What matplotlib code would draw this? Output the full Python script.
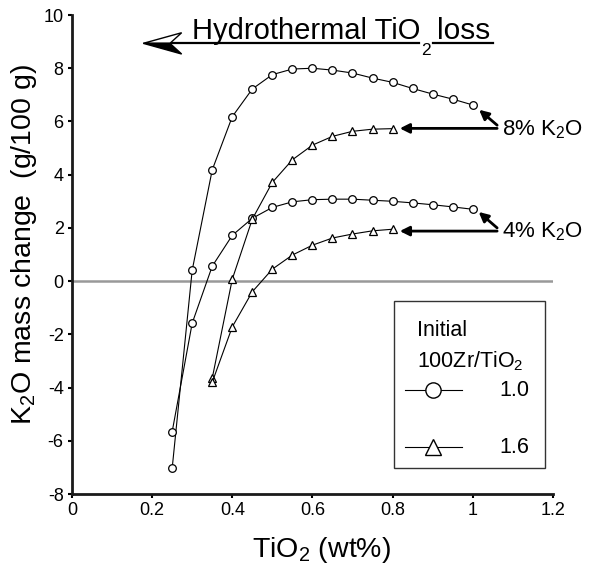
import matplotlib
matplotlib.use("Agg")
import matplotlib.pyplot as plt
from matplotlib.lines import Line2D
from matplotlib.patches import Polygon, Rectangle

plt.rcParams['font.family'] = ['Liberation Sans', 'DejaVu Sans']
plt.rcParams['mathtext.fontset'] = 'custom'
plt.rcParams['mathtext.rm'] = 'Liberation Sans'
plt.rcParams['mathtext.it'] = 'Liberation Sans:italic'
plt.rcParams['axes.unicode_minus'] = False

# TiO2 (wt%) for the circle series (100Zr/TiO2 = 1.0)
tio2_circ = [0.25, 0.30, 0.35, 0.40, 0.45, 0.50, 0.55, 0.60, 0.65,
             0.70, 0.75, 0.80, 0.85, 0.90, 0.95, 1.00]
k2o_8_circ = [-7.04, 0.41, 4.18, 6.18, 7.22, 7.76, 7.97, 8.00, 7.93,
              7.82, 7.63, 7.47, 7.24, 7.03, 6.84, 6.62]
k2o_4_circ = [-5.66, -1.58, 0.56, 1.72, 2.36, 2.77, 2.98, 3.06, 3.08,
              3.08, 3.04, 3.00, 2.94, 2.87, 2.79, 2.70]

# TiO2 (wt%) for the triangle series (100Zr/TiO2 = 1.6)
tio2_tri = [0.35, 0.40, 0.45, 0.50, 0.55, 0.60, 0.65, 0.70, 0.75, 0.80]
k2o_8_tri = [-3.65, 0.07, 2.33, 3.71, 4.56, 5.11, 5.44, 5.63, 5.71, 5.73]
k2o_4_tri = [-3.80, -1.72, -0.40, 0.45, 0.98, 1.35, 1.62, 1.77, 1.89, 1.95]

xticks = [0, 0.2, 0.4, 0.6, 0.8, 1.0, 1.2]
xticklabels = ['0', '0.2', '0.4', '0.6', '0.8', '1', '1.2']
yticks = list(range(-8, 11, 2))

legend_title = ['Initial', '100Zr/TiO$_2$']
legend_labels = ['1.0', '1.6']
legend_markers = ['o', '^']

fig = plt.figure(figsize=(5.9, 5.69), dpi=100)
ax = fig.add_axes([0.122, 0.1318, 0.815, 0.8418])

ax.axhline(0, color='#999999', lw=1.8, zorder=1)

mk = dict(color='black', lw=0.8, mfc='white', mec='black', mew=0.9, zorder=3)
ax.plot(tio2_circ, k2o_8_circ, marker='o', ms=5.5, **mk)
ax.plot(tio2_circ, k2o_4_circ, marker='o', ms=5.5, **mk)
ax.plot(tio2_tri, k2o_8_tri, marker='^', ms=6, **mk)
ax.plot(tio2_tri, k2o_4_tri, marker='^', ms=6, **mk)

ax.set_xlim(0, 1.2)
ax.set_ylim(-8, 10)
ax.set_xticks(xticks)
ax.set_xticklabels(xticklabels)
ax.set_yticks(yticks)
for s in ['top', 'right']:
    ax.spines[s].set_visible(False)
for s in ['left', 'bottom']:
    ax.spines[s].set_linewidth(2)
    ax.spines[s].set_color('#1a1a1a')
ax.tick_params(direction='out', length=3, width=1.5, labelsize=13, pad=3)

ax.set_xlabel('TiO$_2$ (wt%)', fontsize=20.5)
ax.xaxis.set_label_coords(0.518, -0.085)
ax.set_ylabel('K$_2$O mass change  (g/100 g)', fontsize=20.5)
ax.yaxis.set_label_coords(-0.068, 0.52)

# labels with arrows
arr = dict(arrowstyle='-|>', lw=2, color='black', mutation_scale=14,
           shrinkA=0, shrinkB=0)
ax.text(1.072, 5.70, '8% K$_2$O', fontsize=16, va='center', ha='left')
ax.annotate('', xy=(0.818, 5.74), xytext=(1.061, 5.74), arrowprops=arr)
ax.annotate('', xy=(1.016, 6.44), xytext=(1.061, 5.86), arrowprops=arr)
ax.text(1.072, 1.86, '4% K$_2$O', fontsize=16, va='center', ha='left')
ax.annotate('', xy=(0.818, 1.88), xytext=(1.061, 1.88), arrowprops=arr)
ax.annotate('', xy=(1.015, 2.60), xytext=(1.061, 2.00), arrowprops=arr)

# hydrothermal loss arrow (subscript 2 dips through the underline)
ax.text(0.2994, 9.087, 'Hydrothermal TiO', fontsize=21, va='baseline', ha='left')
ax.text(0.872, 8.50, '2', fontsize=12.5, va='baseline', ha='left')
ax.text(0.9107, 9.087, 'loss', fontsize=21.5, va='baseline', ha='left')
ax.plot([0.24, 0.866], [8.936, 8.936], color='black', lw=1.6)
ax.plot([0.902, 1.05], [8.936, 8.936], color='black', lw=1.6)
ax.add_patch(Polygon([(0.178, 8.936), (0.2737, 9.335), (0.2445, 8.936)],
                     closed=True, fc='white', ec='black', lw=1.0, zorder=4))
ax.add_patch(Polygon([(0.178, 8.936), (0.2445, 8.936), (0.2737, 8.534)],
                     closed=True, fc='black', ec='black', lw=1.0, zorder=4))

# legend box, drawn by hand (title sits closer to entries than entries to each other)
tr = ax.transAxes
ax.add_patch(Rectangle((0.6694, 0.0543), 0.314, 0.3486, transform=tr,
                       fc='white', ec='#333333', lw=1.0, zorder=5))
for txt, yy in zip(legend_title, [0.3424, 0.2777]):
    ax.text(0.7166, yy, txt, transform=tr, fontsize=15.5, va='center',
            ha='left', zorder=6)
for lab, m, yy in zip(legend_labels, legend_markers, [0.2171, 0.0981]):
    ax.add_line(Line2D([0.6923, 0.8108], [yy, yy], transform=tr,
                       color='black', lw=0.8, zorder=6))
    ax.add_line(Line2D([0.7505], [yy], transform=tr, marker=m,
                       ms=11 if m == 'o' else 12, mfc='white', mec='black',
                       mew=1.0, zorder=7))
    ax.text(0.8898, yy, lab, transform=tr, fontsize=15.5, va='center',
            ha='left', zorder=6)

fig.savefig('out.png', dpi=100)
